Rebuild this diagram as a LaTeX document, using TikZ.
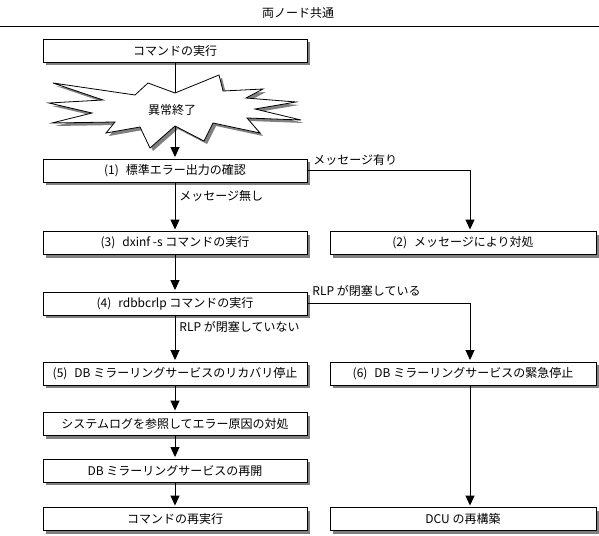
\documentclass[tikz,border=0pt]{standalone}
\usepackage{fontspec}
\setmainfont{Noto Sans CJK JP}
\usetikzlibrary{arrows.meta,shadows}
\newcommand{\numgap}{\hspace{7pt}}
\begin{document}
\begin{tikzpicture}[x=1pt,y=-1pt,
  font=\fontsize{12}{14}\selectfont,
  line width=0.9pt,
  box/.style={draw, fill=white, minimum width=264pt, minimum height=23pt, inner sep=0pt,
    drop shadow={shadow xshift=3pt, shadow yshift=-3pt, fill=black!50, opacity=1}},
  rbox/.style={box, minimum width=266pt},
  conn/.style={-{Triangle[width=9pt,length=10pt]}, shorten >=1.5pt},
  lbl/.style={anchor=west, inner sep=0pt}]
\useasboundingbox (0,0) rectangle (599,535);
% title
\node (title) at (298,13) {両ノード共通};
\coordinate (ruleL) at (0,26);
\coordinate (ruleR) at (599,26);
\draw (ruleL) -- (ruleR);
% boxes
\node[box] (b0) at (175,50.5) {コマンドの実行};
\node[box] (b1) at (175,170.5) {(1)\numgap 標準エラー出力の確認};
\node[box] (b3) at (175,243) {(3)\numgap dxinf -s コマンドの実行};
\node[rbox] (b2) at (463,243) {(2)\numgap メッセージにより対処};
\node[box] (b4) at (175,303.5) {(4)\numgap rdbbcrlp コマンドの実行};
\node[box] (b5) at (175,373.5) {(5)\numgap DB ミラーリングサービスのリカバリ停止};
\node[rbox] (b6) at (463,373.5) {(6)\numgap DB ミラーリングサービスの緊急停止};
\node[box] (b7) at (175,424) {システムログを参照してエラー原因の対処};
\node[box] (b8) at (175,470.5) {DB ミラーリングサービスの再開};
\node[box] (b9) at (175,519) {コマンドの再実行};
\node[rbox] (b10) at (463,519) {DCU の再構築};
% starburst
\fill[black!50, shift={(3,3)}] (175,93) -- (219,75) -- (223,91) -- (263,89) -- (246,98) -- (296,102) -- (255,109) -- (301,120) -- (247,118) -- (260,133) -- (213,123) -- (204,141) -- (175,126) -- (150,148) -- (140,127) -- (106,133) -- (115,122) -- (52,123) -- (92,113) -- (49,103) -- (103,100) -- (53,83) -- (135,95) -- (148,83) -- cycle;
\draw[fill=white, line width=0.8pt] (175,93) -- (219,75) -- (223,91) -- (263,89) -- (246,98) -- (296,102) -- (255,109) -- (301,120) -- (247,118) -- (260,133) -- (213,123) -- (204,141) -- (175,126) -- (150,148) -- (140,127) -- (106,133) -- (115,122) -- (52,123) -- (92,113) -- (49,103) -- (103,100) -- (53,83) -- (135,95) -- (148,83) -- cycle;
\coordinate (sbT) at (175,93);
\coordinate (sbB) at (175,126);
\node (err) at (172,110) {異常終了};
\coordinate (rx) at (470,0);
% connectors
\draw (b0.south) -- (sbT);
\draw[conn] (sbB) -- (b1.north);
\draw[conn] (b1.east) -| (rx |- b2.north);
\draw[conn] (b1.south) -- (b3.north);
\draw[conn] (b3.south) -- (b4.north);
\draw[conn] (b4.east) -| (rx |- b6.north);
\draw[conn] (b4.south) -- (b5.north);
\draw[conn] (b5.south) -- (b7.north);
\draw[conn] (b7.south) -- (b8.north);
\draw[conn] (b8.south) -- (b9.north);
\draw[conn] (rx |- b6.south) -- (rx |- b10.north);
% labels
\node[lbl] (l1) at (313,159.5) {メッセージ有り};
\node[lbl] (l2) at (179,196) {メッセージ無し};
\node[lbl] (l3) at (312,291) {RLP が閉塞している};
\node[lbl] (l4) at (179,327) {RLP が閉塞していない};
\end{tikzpicture}
\end{document}
